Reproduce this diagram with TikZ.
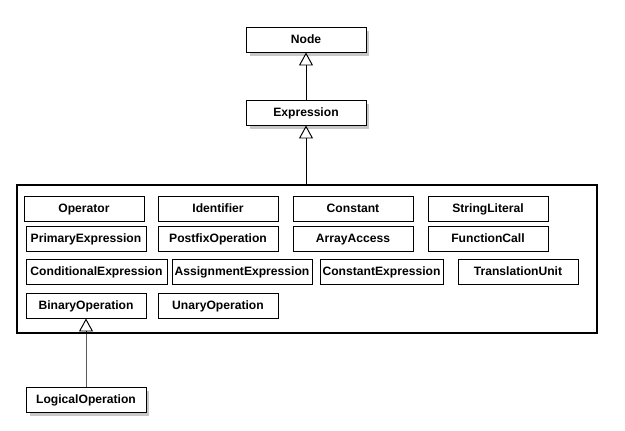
\documentclass[tikz,border=0pt]{standalone}
\usepackage{fontspec}
\setmainfont{Liberation Sans}
\usetikzlibrary{arrows.meta,shadows}
\tikzset{
  cls/.style={draw, line width=0.55pt, fill=white, inner sep=0pt,
    minimum width=2.4cm, minimum height=0.5cm, text height=4.6pt, text depth=0pt,
    font=\fontsize{6.9}{8}\selectfont\bfseries},
  shadowed/.style={drop shadow={shadow xshift=0.07cm, shadow yshift=-0.07cm, fill=black, opacity=0.22}},
  extends/.style={line width=0.55pt, -{Triangle[open, width=8pt, length=7.4pt]}}
}
\begin{document}
\begin{tikzpicture}[x=0.02cm, y=-0.02cm]
  \useasboundingbox (0,0) rectangle (625,430);
  % top of the hierarchy
  \node[cls, shadowed] (node) at (306,39.5) {Node};
  \node[cls, shadowed] (expr) at (306,112.5) {Expression};
  % group of subclasses
  \node[draw, line width=1.15pt, minimum width=11.6cm, minimum height=2.96cm] (grp) at (307,259) {};
  \node[cls] (op)    at (84,208.5)  {Operator};
  \node[cls] (ident) at (218,208.5) {Identifier};
  \node[cls] (const) at (353,208.5) {Constant};
  \node[cls] (str)   at (488,208.5) {StringLiteral};
  \node[cls] (prim)  at (86,238.5)  {PrimaryExpression};
  \node[cls] (post)  at (218,238.5) {PostfixOperation};
  \node[cls] (arr)   at (353,238.5) {ArrayAccess};
  \node[cls] (call)  at (488,238.5) {FunctionCall};
  \node[cls, minimum width=2.82cm] (cond)   at (96.5,271.5) {ConditionalExpression};
  \node[cls, minimum width=2.8cm]  (assign) at (242,271.5)  {AssignmentExpression};
  \node[cls, minimum width=2.46cm] (cexpr)  at (381.5,271.5) {ConstantExpression};
  \node[cls] (unit)  at (518,271.5) {TranslationUnit};
  \node[cls] (bin)   at (86,305.5)  {BinaryOperation};
  \node[cls] (un)    at (218,305.5) {UnaryOperation};
  \node[cls, shadowed] (logic) at (86,399.5) {LogicalOperation};
  % inheritance
  \draw[extends] (expr.north) -- (node.south);
  \draw[extends] (grp.north -| expr) -- (expr.south);
  \draw[extends] (logic.north) -- (grp.south -| bin) -- (bin.south);
\end{tikzpicture}
\end{document}
